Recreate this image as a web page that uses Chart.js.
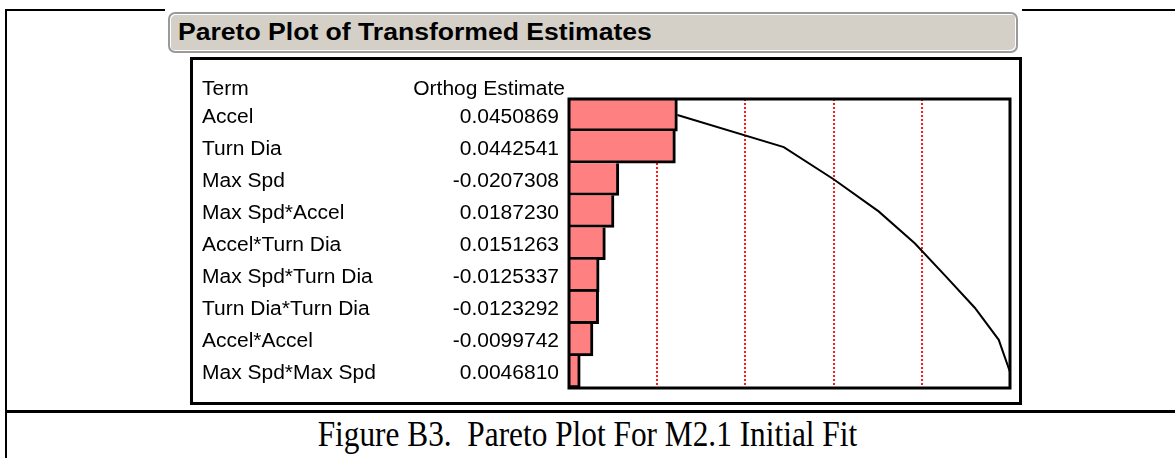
<!DOCTYPE html>
<html>
<head>
<meta charset="utf-8">
<script src="https://cdn.jsdelivr.net/npm/chart.js@4"></script>
<style>
  body { margin: 0; background: #fff; width: 1175px; height: 458px; position: relative; overflow: hidden; }
  .ln { position: absolute; background: #000; }
  #titleBar {
    position: absolute; left: 168px; top: 12px; width: 846px; height: 37px;
    background: #d4d0c8; border: 2px solid #9a9a9a; border-radius: 7px;
    box-shadow: inset 1px 1px 0 #fff, inset -1px -1px 0 #fff;
  }
  #titleBar span {
    position: absolute; left: 8px; top: 5px; display: inline-block;
    font: bold 23px "Liberation Sans", Arial, sans-serif; color: #000;
    transform: scaleX(1.155); transform-origin: left center; white-space: nowrap;
  }
  #innerBox { position: absolute; left: 190px; top: 57px; width: 826px; height: 342px; border: 3px solid #000; }
  #paretoCanvas { position: absolute; left: 193px; top: 60px; }
  #caption {
    position: absolute; left: 0; top: 415px; width: 1175px; text-align: center;
    color: #000; white-space: nowrap;
  }
  #caption span {
    display: inline-block; font: 35px "Liberation Serif", "Times New Roman", serif;
    transform: scaleX(0.895); transform-origin: center;
  }
</style>
</head>
<body>
<!-- outer table borders -->
<div class="ln" style="left:5px; top:9px; width:2px; height:449px;"></div>
<div class="ln" style="left:5px; top:9px; width:160px; height:2px;"></div>
<div class="ln" style="left:1022px; top:9px; width:153px; height:2px;"></div>
<div class="ln" style="left:5px; top:410px; width:1170px; height:3px;"></div>

<div id="titleBar"><span>Pareto Plot of Transformed Estimates</span></div>
<div id="innerBox"></div>
<canvas id="paretoCanvas" width="826" height="342"></canvas>
<div id="caption"><span>Figure B3.&nbsp; Pareto Plot For M2.1 Initial Fit</span></div>

<script>
// terminos y estimaciones ortogonales (ordenados por magnitud)
const terms = ['Accel', 'Turn Dia', 'Max Spd', 'Max Spd*Accel', 'Accel*Turn Dia',
    'Max Spd*Turn Dia', 'Turn Dia*Turn Dia', 'Accel*Accel', 'Max Spd*Max Spd'];
const estimates = [0.0450869, 0.0442541, -0.0207308, 0.0187230, 0.0151263,
    -0.0125337, -0.0123292, -0.0099742, 0.0046810];
const estimateLabels = ['0.0450869', '0.0442541', '-0.0207308', '0.0187230', '0.0151263',
    '-0.0125337', '-0.0123292', '-0.0099742', '0.0046810'];
const gridFractions = [0, 0.2, 0.4, 0.6, 0.8, 1];

const absEstimates = estimates.map(v => Math.abs(v));
const total = absEstimates.reduce((a, b) => a + b, 0);
// linea acumulada del pareto
let running = 0;
const cumulative = absEstimates.map(v => (running += v));

const textFont = '20px "Liberation Sans", Arial, sans-serif';
const textStretch = 1.05;

function stretchedText(ctx, text, x, y, align) {
    ctx.save();
    ctx.translate(x, y);
    ctx.scale(textStretch, 1);
    ctx.textAlign = align;
    ctx.fillText(text, 0, 0);
    ctx.restore();
}

// dibuja la tabla de terminos y el marco del grafico
const tablePlugin = {
    id: 'tablePlugin',
    afterDraw(chart) {
        const ctx = chart.ctx;
        const yScale = chart.scales.y;
        const area = chart.chartArea;
        ctx.save();
        ctx.fillStyle = '#000';
        ctx.font = textFont;
        ctx.textBaseline = 'middle';
        stretchedText(ctx, 'Term', 9, 29, 'left');
        stretchedText(ctx, 'Orthog Estimate', 372, 29, 'right');
        terms.forEach((t, i) => {
            const y = yScale.getPixelForValue(i) + 2;
            stretchedText(ctx, t, 9, y, 'left');
            stretchedText(ctx, estimateLabels[i], 366, y, 'right');
        });
        ctx.strokeStyle = '#000';
        ctx.lineWidth = 3;
        ctx.strokeRect(area.left, area.top, area.right - area.left, area.bottom - area.top);
        ctx.restore();
    }
};

const ctx = document.getElementById('paretoCanvas').getContext('2d');
const paretoChart = new Chart(ctx, {
    type: 'bar',
    data: {
        labels: terms,
        datasets: [{
            type: 'line',
            label: 'Cumulative',
            data: cumulative,
            borderColor: '#000',
            borderWidth: 2,
            pointRadius: 0,
            tension: 0,
            fill: false,
            order: 0
        }, {
            label: 'Orthog Estimate',
            data: absEstimates,
            backgroundColor: '#ff8080',
            borderColor: '#000',
            borderWidth: { top: 0, left: 0, right: 3, bottom: 3 },
            borderSkipped: false,
            categoryPercentage: 1,
            barPercentage: 1,
            order: 1
        }]
    },
    options: {
        indexAxis: 'y',
        responsive: false,
        animation: false,
        layout: { padding: { left: 376, right: 9, top: 39, bottom: 14 } },
        plugins: { legend: { display: false }, tooltip: { enabled: false } },
        scales: {
            x: {
                min: 0,
                max: total,
                afterBuildTicks: (scale) => {
                    scale.ticks = gridFractions.map(f => ({ value: f * total }));
                },
                ticks: { display: false },
                grid: {
                    drawTicks: false,
                    tickLength: 0,
                    lineWidth: 2,
                    color: (c) => (c.index > 0 && c.index < gridFractions.length - 1) ? '#ff1a1a' : 'rgba(0,0,0,0)'
                },
                border: { display: false, dash: [2, 2] }
            },
            y: {
                display: false,
                offset: true
            }
        }
    },
    plugins: [tablePlugin]
});
</script>
</body>
</html>
